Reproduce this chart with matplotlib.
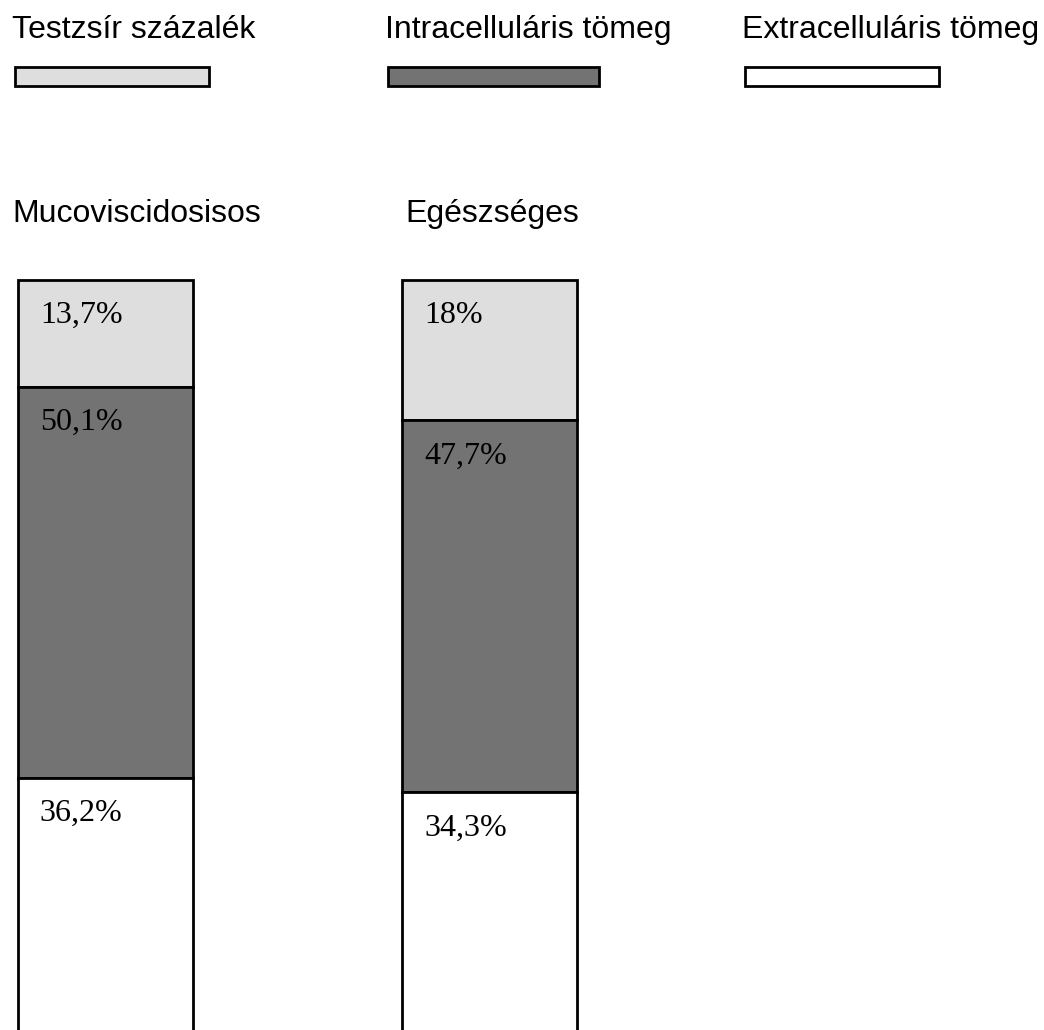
import numpy as np
import matplotlib
matplotlib.use("Agg")
import matplotlib.pyplot as plt
from matplotlib.patches import Rectangle

# body composition, % of body mass
groups = ["Mucoviscidosisos", "Egészséges"]
components = ["Testzsír százalék", "Intracelluláris tömeg", "Extracelluláris tömeg"]
fat = [13.7, 18.0]
intracell = [50.1, 47.7]
extracell = [36.2, 34.3]
value_labels = [["13,7%", "50,1%", "36,2%"], ["18%", "47,7%", "34,3%"]]

colours = ["#dedede", "#737373", "#ffffff"]

W, H = 1044, 1030
fig = plt.figure(figsize=(W / 100, H / 100), dpi=100)

sans = "Liberation Sans"
serif = "Liberation Serif"

def fx(px):
    return px / W

def fy(py):
    return 1 - py / H

# legend row: name above a small swatch
legend_x = [12, 385, 742]
swatch_w = [194, 211, 194]
for name, col, x0, w in zip(components, colours, legend_x, swatch_w):
    fig.text(fx(x0), fy(38), name, fontsize=23, family=sans, va="baseline", ha="left")
    fig.patches.append(Rectangle((fx(x0 + 2.5), fy(85.5)), w / W, 18 / H,
                                 transform=fig.transFigure, facecolor=col,
                                 edgecolor="black", linewidth=2))

# stacked bars, drawn from the top downwards
ax = fig.add_axes([0, fy(280) - 780 / H, 1, 780 / H])
x = np.arange(len(groups))
width = 0.455
series = [fat, intracell, extracell]
starts = np.zeros(len(groups))
for vals, col in zip(series, colours):
    ax.bar(x, vals, bottom=starts, width=width, color=col, edgecolor="black",
           linewidth=2, align="center", clip_on=False)
    starts = starts + np.array(vals)

ax.set_xlim(-0.274, 2.441)
ax.set_ylim(100, 0)
ax.axis("off")

# percent labels near the top-left corner of each segment
for i in range(len(groups)):
    top = 0.0
    for j, vals in enumerate(series):
        ax.annotate(value_labels[i][j], xy=(x[i] - width / 2, top),
                    xytext=(22, -43), textcoords="offset pixels",
                    fontsize=23, family=serif, va="baseline", ha="left")
        top += vals[i]

# group names above the bars
group_x = [12, 405]
for g, gx in zip(groups, group_x):
    fig.text(fx(gx), fy(222), g, fontsize=23, family=sans, va="baseline", ha="left")

fig.savefig("out.png", dpi=100)
